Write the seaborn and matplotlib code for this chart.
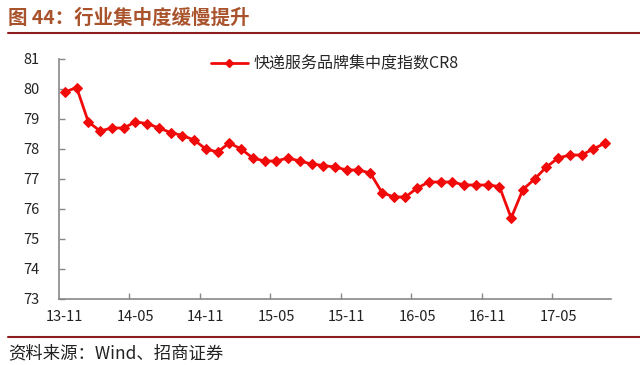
import matplotlib
matplotlib.use("Agg")
import matplotlib.pyplot as plt
from matplotlib.lines import Line2D
import seaborn as sns
import pandas as pd
import numpy as np

# ---- data ----
tick_labels = ["13-11", "14-05", "14-11", "15-05", "15-11", "16-05", "16-11", "17-05"]
months = pd.period_range("2013-11", "2017-09", freq="M").strftime("%y-%m").tolist()
cr8 = [79.9, 80.05, 78.9, 78.6, 78.7, 78.7, 78.9, 78.85, 78.7, 78.55, 78.45, 78.3,
       78.0, 77.9, 78.2, 78.0, 77.7, 77.6, 77.6, 77.7, 77.6, 77.5, 77.45, 77.4,
       77.3, 77.3, 77.2, 76.55, 76.4, 76.4, 76.7, 76.9, 76.9, 76.9, 76.8, 76.8,
       76.8, 76.75, 75.7, 76.65, 77.0, 77.4, 77.7, 77.8, 77.8, 78.0, 78.2]
series_name = "快递服务品牌集中度指数CR8"
title_text = "图 44：行业集中度缓慢提升"
source_text = "资料来源：Wind、招商证券"

df = pd.DataFrame({"month": months, "idx": np.arange(len(months)), "value": cr8})

sns.set_theme(style="white")
plt.rcParams["font.family"] = ["Noto Sans CJK SC", "DejaVu Sans"]

fig = plt.figure(figsize=(6.4, 3.65), dpi=100)
fig.patch.set_facecolor("white")
ax = fig.add_axes([59/640, 1-299/365, 552/640, 240/365])

red = "#F00A0A"
sns.lineplot(data=df, x="idx", y="value", ax=ax, color=red, linewidth=2,
             marker="D", markersize=5.5, markeredgecolor=red, markerfacecolor=red,
             label=series_name, legend=False)

ax.set_xlim(-0.5, len(months) - 0.5)
ax.set_ylim(73, 81)
ax.set_yticks(range(73, 82))
ax.set_yticklabels([str(v) for v in range(73, 82)])

label_pos = [months.index(t) for t in tick_labels]
ax.set_xticks(label_pos)
ax.set_xticklabels(tick_labels)
ax.set_xticks([p - 0.5 for p in label_pos[1:]], minor=True)
ax.tick_params(axis="x", which="major", length=0, pad=8, labelsize=10.5, labelcolor="#222222")
ax.tick_params(axis="x", which="minor", length=4, direction="in", width=1, color="#888888", bottom=True)
ax.tick_params(axis="y", which="major", length=4, direction="in", width=1, color="#888888",
               left=True, labelsize=10.5, labelcolor="#222222", pad=14)

ax.set_xlabel("")
ax.set_ylabel("")
for s in ["top", "right"]:
    ax.spines[s].set_visible(False)
for s in ["left", "bottom"]:
    ax.spines[s].set_color("#888888")
    ax.spines[s].set_linewidth(1.2)
ax.grid(False)

handle = Line2D([0], [0], color=red, linewidth=2, marker="D", markersize=4)
ax.legend([handle], [series_name], loc="upper center", bbox_to_anchor=(0.5, 1.075),
          frameon=False, handlelength=2.3, handletextpad=0.4,
          prop={"family": ["Noto Sans CJK SC", "DejaVu Sans"], "size": 11.5})

# title and separators
fig.text(8/640, 1-18/365, title_text, fontsize=14, fontweight="bold",
         color="#A9532C", va="center", ha="left")
fig.add_artist(Line2D([8/640, 1.0], [1-33/365, 1-33/365], color="#8E1B1E", linewidth=1.5))
fig.add_artist(Line2D([8/640, 1.0], [1-337/365, 1-337/365], color="#8E1B1E", linewidth=1.5))
fig.text(8/640, 1-353/365, source_text, fontsize=12.5, color="#222222", va="center", ha="left")

fig.savefig("out.png", dpi=100, facecolor="white")
